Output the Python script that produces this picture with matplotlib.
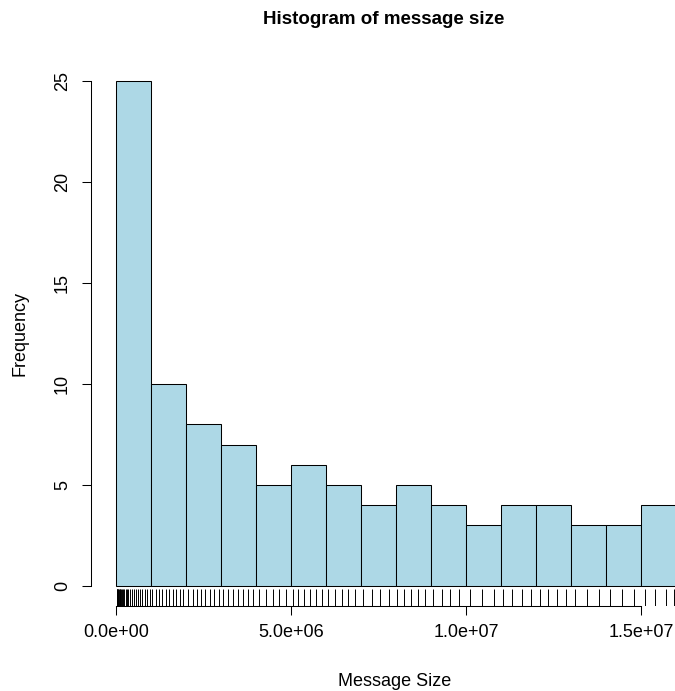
import numpy as np
import matplotlib.pyplot as plt

plt.rcParams['font.family'] = ['Liberation Sans', 'DejaVu Sans']

# message sizes in bytes (millions below, scaled on use)
msg_size_mb = [
    0.01, 0.02, 0.03, 0.05, 0.06, 0.08, 0.10, 0.12, 0.14, 0.17,
    0.20, 0.23, 0.27, 0.31, 0.35, 0.40, 0.45, 0.50, 0.56, 0.62,
    0.68, 0.75, 0.82, 0.89, 0.96,
    1.03, 1.13, 1.22, 1.32, 1.42, 1.52, 1.62, 1.72, 1.82, 1.92,
    2.06, 2.18, 2.30, 2.42, 2.55, 2.67, 2.80, 2.93,
    3.05, 3.19, 3.33, 3.48, 3.62, 3.77, 3.91,
    4.08, 4.27, 4.47, 4.66, 4.86,
    5.04, 5.20, 5.37, 5.54, 5.70, 5.87,
    6.05, 6.24, 6.44, 6.63, 6.83,
    7.05, 7.30, 7.55, 7.80,
    8.02, 8.22, 8.42, 8.62, 8.82,
    9.05, 9.30, 9.55, 9.80,
    10.10, 10.45, 10.80,
    11.05, 11.30, 11.60, 11.85,
    12.10, 12.35, 12.60, 12.85,
    13.10, 13.45, 13.80,
    14.10, 14.45, 14.80,
    15.10, 15.40, 15.70, 15.95,
]
bin_edges_mb = [0, 1, 2, 3, 4, 5, 6, 7, 8, 9, 10, 11, 12, 13, 14, 15, 16]
x_ticks = [0, 5e6, 1e7, 1.5e7]
x_tick_labels = ['0.0e+00', '5.0e+06', '1.0e+07', '1.5e+07']
y_ticks = [0, 5, 10, 15, 20, 25]

sizes = np.array(msg_size_mb) * 1e6
edges = np.array(bin_edges_mb) * 1e6

W, H = 675, 691
fig = plt.figure(figsize=(W / 100, H / 100), dpi=100)
# plot region runs off the right edge, as in the R device
ax = fig.add_axes([91 / W, (H - 606.2) / H, 680.4 / W, 545.4 / H])

ax.hist(sizes, bins=edges, color='#ADD8E6', edgecolor='black', linewidth=0.75)

# rug along the bottom
ax.vlines(sizes, 0, 0.031, transform=ax.get_xaxis_transform(),
          color='black', linewidth=0.7)

ax.set_xlim(-0.72e6, 18.72e6)
ax.set_ylim(-1, 26)

for s in ['top', 'right']:
    ax.spines[s].set_visible(False)
ax.spines['bottom'].set_bounds(0, 1.5e7)
ax.spines['left'].set_bounds(0, 25)
for s in ['bottom', 'left']:
    ax.spines[s].set_linewidth(0.75)

ax.set_xticks(x_ticks)
ax.set_xticklabels(x_tick_labels)
ax.set_yticks(y_ticks)
ax.set_yticklabels([str(v) for v in y_ticks], rotation=90, va='center')
ax.tick_params(axis='both', labelsize=13, length=6.5, width=0.75)
ax.tick_params(axis='x', pad=6)
ax.tick_params(axis='y', pad=8)

fig.text(384 / W, 1 - 20 / H, 'Histogram of message size', ha='center',
         va='center', fontsize=13.5, fontweight='bold')
fig.text(395 / W, 1 - 681 / H, 'Message Size', ha='center', va='center',
         fontsize=13)
fig.text(20 / W, 1 - 333 / H, 'Frequency', ha='center', va='center',
         rotation=90, fontsize=13)

fig.savefig('out.png', dpi=100)
